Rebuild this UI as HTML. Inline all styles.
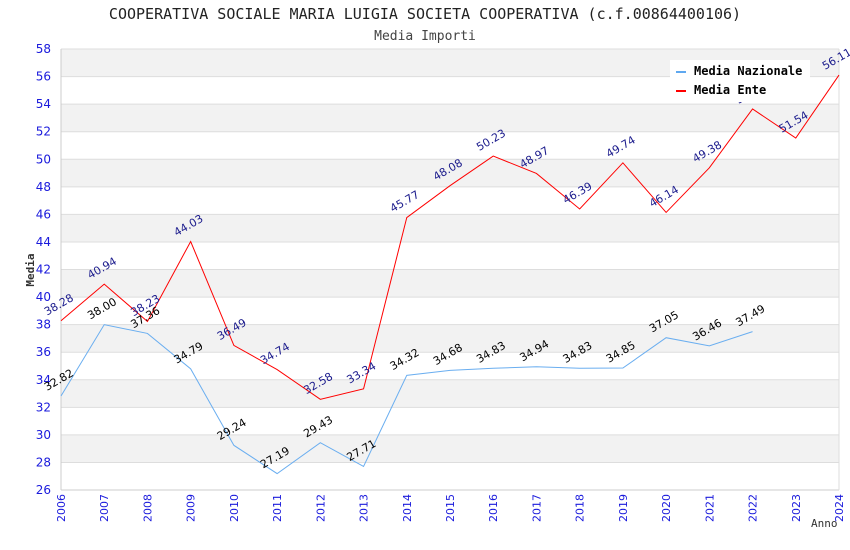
<!DOCTYPE html>
<html><head><meta charset="utf-8"><style>
body{margin:0;background:#fff;}
svg{display:block;font-family:"DejaVu Sans Mono","Liberation Mono",monospace;}
</style></head><body>
<svg id="c" width="850" height="550">
<text x="425" y="19" text-anchor="middle" font-size="15" fill="#222">COOPERATIVA SOCIALE MARIA LUIGIA SOCIETA COOPERATIVA (c.f.00864400106)</text>
<text x="425" y="40" text-anchor="middle" font-size="13" fill="#444">Media Importi</text>
<g id="bands"></g><g id="axes"></g><g id="series"></g><g id="labels"></g>
<g>
<rect x="670" y="60" width="140" height="42" fill="#fff"/>
<rect x="676" y="71" width="10" height="2" fill="#5fa8f0"/>
<text x="694" y="75" font-size="12" font-weight="bold" fill="#000">Media Nazionale</text>
<rect x="676" y="90" width="10" height="2" fill="#ff0000"/>
<text x="694" y="94" font-size="12" font-weight="bold" fill="#000">Media Ente</text>
</g>
<text transform="translate(34,270) rotate(-90)" text-anchor="middle" font-size="11" font-weight="bold" fill="#333">Media</text>
<text x="811" y="527" font-size="11" fill="#333">Anno</text>
</svg>
<script>
const years=[2006,2007,2008,2009,2010,2011,2012,2013,2014,2015,2016,2017,2018,2019,2020,2021,2022,2023,2024];
const nazionale=[32.82,38.00,37.36,34.79,29.24,27.19,29.43,27.71,34.32,34.68,34.83,34.94,34.83,34.85,37.05,36.46,37.49];
const ente=[38.28,40.94,38.23,44.03,36.49,34.74,32.58,33.34,45.77,48.08,50.23,48.97,46.39,49.74,46.14,49.38,53.65,51.54,56.11];
const yTicks=[26,28,30,32,34,36,38,40,42,44,46,48,50,52,54,56,58];
const NS="http://www.w3.org/2000/svg";
const L=61,R=839,T=49,B=490,yMin=26,yMax=58;
const x=i=>L+(R-L)*i/(years.length-1);
const y=v=>B-(v-yMin)/(yMax-yMin)*(B-T);
function mk(t,a,p){const e=document.createElementNS(NS,t);for(const k in a)e.setAttribute(k,a[k]);p.appendChild(e);return e;}
const bands=document.getElementById('bands'),axes=document.getElementById('axes'),ser=document.getElementById('series'),lab=document.getElementById('labels');
for(let i=0;i<yTicks.length-1;i++){
  const lo=yTicks[i],hi=yTicks[i+1];
  const r=mk('rect',{x:L,y:y(hi),width:R-L,height:y(lo)-y(hi),fill:((58-hi)%4===0)?'#f2f2f2':'#fff'},bands);
  
  
}
yTicks.forEach(v=>{
  const g=mk('line',{x1:L,x2:R,y1:y(v),y2:y(v),stroke:'#ddd','stroke-width':1},axes);
  
  
  const t=mk('text',{x:L-10,y:y(v)+4,'text-anchor':'end','font-size':12,fill:'#1a1adc','font-family':'"DejaVu Sans","Liberation Sans",sans-serif'},axes);
  t.textContent=v;
  
  
});
mk('line',{x1:L,x2:L,y1:T,y2:B,stroke:'#ccc'},axes);
mk('line',{x1:L,x2:R,y1:B,y2:B,stroke:'#ccc'},axes);
mk('line',{x1:R,x2:R,y1:T,y2:B,stroke:'#ddd'},axes);
years.forEach((yr,i)=>{
  const t=mk('text',{transform:`translate(${x(i)+4},${B+4}) rotate(-90)`,'text-anchor':'end','font-size':11,fill:'#1a1adc','font-family':'"DejaVu Sans","Liberation Sans",sans-serif'},axes);
  t.textContent=yr;
  
  
});
function series(vals,color,lc,name){
  const p=mk('polyline',{points:vals.map((v,i)=>x(i)+','+y(v)).join(' '),fill:'none',stroke:color,'stroke-width':1},ser);
  
  
  vals.forEach((v,i)=>{
    const t=mk('text',{transform:`translate(${x(i)-14},${y(v)-5}) rotate(-30)`,'font-size':11,fill:lc,'font-family':'"DejaVu Sans","Liberation Sans",sans-serif'},lab);
    t.textContent=v.toFixed(2);
    
    
  });
}
series(nazionale,'#6aaef0','#000','nazionale');
series(ente,'#ff0000','#1a1a8c','ente');
</script>
</body></html>
